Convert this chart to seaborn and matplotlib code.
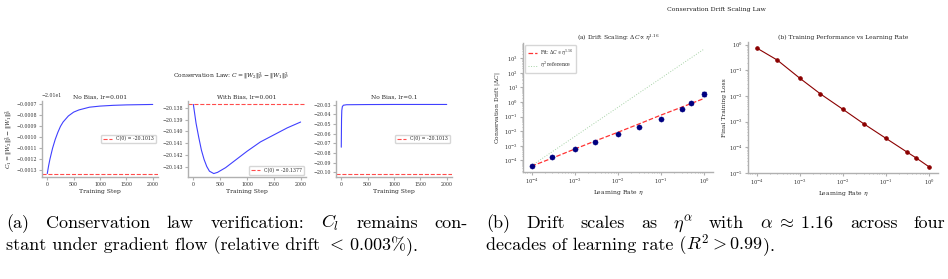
import numpy as np
import pandas as pd
import seaborn as sns
import matplotlib
matplotlib.use("Agg")
import matplotlib.pyplot as plt

# ---- (a) conservation law traces (sampled from the curves) ----
steps_a1 = [0, 25, 50, 100, 150, 200, 250, 300, 400, 500, 600, 800, 1000, 1250, 1500, 1750, 2000]
cons_a1 = [-20.10133, -20.10126, -20.10120, -20.10110, -20.10102, -20.100955, -20.10090,
           -20.10086, -20.100805, -20.10077, -20.10075, -20.100725, -20.100715,
           -20.100708, -20.100704, -20.100702, -20.10070]
c0_a1 = -20.10133

steps_a2 = [0, 25, 50, 100, 150, 200, 250, 300, 380, 450, 600, 800, 1000, 1250, 1500, 1750, 2000]
cons_a2 = [-20.1377, -20.1385, -20.1393, -20.1405, -20.1416, -20.1424, -20.1430, -20.1434,
           -20.1436, -20.1435, -20.1431, -20.1424, -20.1417, -20.1409, -20.1403, -20.1397,
           -20.1392]
c0_a2 = -20.1377

steps_a3 = [0, 5, 10, 20, 40, 100, 500, 1000, 2000]
cons_a3 = [-20.074, -20.045, -20.036, -20.032, -20.0305, -20.0300, -20.0298, -20.0297, -20.0297]
c0_a3 = -20.1013

panel_titles = ["No Bias, lr=0.001", "With Bias, lr=0.001", "No Bias, lr=0.1"]
legend_labels = ["C(0) = -20.1013", "C(0) = -20.1377", "C(0) = -20.1013"]

# ---- (b) drift scaling ----
eta = [1e-4, 3e-4, 1e-3, 3e-3, 1e-2, 3e-2, 1e-1, 3e-1, 5e-1, 1.0]
drift = [4.4e-5, 1.8e-4, 6.0e-4, 1.9e-3, 6.5e-3, 2.0e-2, 6.9e-2, 0.31, 0.85, 3.6]
drift_err = [2e-6, 8e-6, 3e-5, 1e-4, 3e-4, 1e-3, 4e-3, 0.03, 0.15, 1.1]
fit_line = [4.1e-5, 1.45e-4, 6.1e-4, 2.2e-3, 8.6e-3, 3.1e-2, 1.3e-1, 0.45, 0.81, 1.8]
ref_line = [4.4e-5, 4.0e-4, 4.4e-3, 4.0e-2, 0.44, 4.0, 44.0, 400.0, 1100.0, 4400.0]
final_loss = [0.74, 0.25, 0.049, 0.012, 0.0030, 8.3e-4, 2.2e-4, 6.6e-5, 3.8e-5, 1.7e-5]

sns.set_style("ticks")
plt.rcParams.update({
    "font.family": "serif",
    "font.serif": ["DejaVu Serif"],
    "mathtext.fontset": "dejavuserif",
    "axes.edgecolor": "#b0b0b0",
    "axes.linewidth": 1.0,
    "xtick.color": "#b0b0b0",
    "ytick.color": "#b0b0b0",
    "xtick.labelcolor": "#333333",
    "ytick.labelcolor": "#333333",
    "xtick.major.size": 2,
    "ytick.major.size": 2,
    "xtick.minor.size": 1,
    "ytick.minor.size": 1,
    "xtick.labelsize": 3.4,
    "ytick.labelsize": 3.4,
    "axes.titlesize": 4.3,
    "axes.labelsize": 4.3,
    "legend.fontsize": 3.3,
    "axes.titlepad": 2,
    "axes.labelpad": 1.5,
    "xtick.major.pad": 1.5,
    "ytick.major.pad": 1.5,
})

W, H = 948, 279
fig = plt.figure(figsize=(W / 100, H / 100), dpi=100)


def rect(l, r, t, b):
    return [l / W, 1 - b / H, (r - l) / W, (b - t) / H]


# ---- left composite ----
left_boxes = [(42, 158, 101, 177), (188, 306, 101, 177), (336, 452, 101, 177)]
left_data = [(steps_a1, cons_a1, c0_a1), (steps_a2, cons_a2, c0_a2), (steps_a3, cons_a3, c0_a3)]
legend_locs = ["center right", "lower right", "center right"]

for i, (box, (st, vals, c0)) in enumerate(zip(left_boxes, left_data)):
    ax = fig.add_axes(rect(*box))
    df = pd.DataFrame({"step": st, "C": vals})
    sns.lineplot(data=df, x="step", y="C", color="blue", alpha=0.75, lw=0.8, ax=ax)
    ax.axhline(c0, color="red", ls="--", lw=0.8, alpha=0.7, label=legend_labels[i])
    ax.set_title(panel_titles[i])
    ax.set_xlabel("Training Step")
    ax.set_ylabel("")
    ax.set_xticks([0, 500, 1000, 1500, 2000])
    ax.legend(loc=legend_locs[i], frameon=True, handlelength=2, borderpad=0.4)
    ax.yaxis.get_offset_text().set_fontsize(3.4)
    sns.despine(ax=ax)
    if i == 0:
        ax.set_ylabel(r"$C_1 = \|W_2\|_F^2 - \|W_1\|_F^2$")

fig.text(231 / W, 1 - 76 / H, r"Conservation Law: $C = \|W_2\|_F^2 - \|W_1\|_F^2$",
         ha="center", va="center", fontsize=4.3, color="#222222")

# ---- right composite ----
fig.text(716 / W, 1 - 10 / H, "Conservation Drift Scaling Law",
         ha="center", va="center", fontsize=4.5, color="#222222")

ax_d = fig.add_axes(rect(523, 713, 43, 172))
df_d = pd.DataFrame({"eta": eta, "drift": drift, "fit": fit_line, "ref": ref_line})
ax_d.errorbar(eta, drift, yerr=drift_err, fmt="none", ecolor="navy", elinewidth=0.7, capsize=1.2)
sns.scatterplot(data=df_d, x="eta", y="drift", color="navy", s=14, edgecolor="navy", ax=ax_d, zorder=3)
sns.lineplot(data=df_d, x="eta", y="fit", color="red", ls="--", lw=0.9, alpha=0.8,
             label=r"Fit: $\Delta C \propto \eta^{1.16}$", ax=ax_d)
sns.lineplot(data=df_d, x="eta", y="ref", color="green", ls=":", lw=0.7, alpha=0.35,
             label=r"$\eta^2$ reference", ax=ax_d)
ax_d.set_xscale("log")
ax_d.set_yscale("log")
ax_d.set_title(r"(a) Drift Scaling: $\Delta C \propto \eta^{1.16}$")
ax_d.set_xlabel(r"Learning Rate $\eta$")
ax_d.set_ylabel(r"Conservation Drift $|\Delta C|$")
ax_d.set_yticks([1e-4, 1e-3, 1e-2, 1e-1, 1e0, 1e1, 1e2, 1e3])
ax_d.legend(loc="upper left", frameon=True, handlelength=2, borderpad=0.5)
ax_d.tick_params(labelsize=3.8)
sns.despine(ax=ax_d)

ax_l = fig.add_axes(rect(748, 938, 42, 173))
df_l = pd.DataFrame({"eta": eta, "loss": final_loss})
sns.lineplot(data=df_l, x="eta", y="loss", color="darkred", lw=0.8, marker="o",
             markersize=2.5, markeredgecolor="darkred", ax=ax_l)
ax_l.set_xscale("log")
ax_l.set_yscale("log")
ax_l.set_title("(b) Training Performance vs Learning Rate")
ax_l.set_xlabel(r"Learning Rate $\eta$")
ax_l.set_ylabel("Final Training Loss")
ax_l.tick_params(labelsize=3.8)
sns.despine(ax=ax_l)

# ---- captions (LaTeX-like, first lines justified) ----
plt.rcParams["mathtext.fontset"] = "cm"
cap_kw = dict(fontsize=13, family="cmr10", va="baseline", ha="left", color="black")
renderer = fig.canvas.get_renderer()


def place_words(x0, y, words, x1=None):
    # lay words out left to right; if x1 is given, stretch the gaps to fill the line
    texts = [fig.text(0, 1 - y / H, w, **cap_kw) for w in words]
    widths = [t.get_window_extent(renderer).width for t in texts]
    gap = 0 if x1 is None else ((x1 - x0) - sum(widths)) / (len(words) - 1)
    x = x0
    for t, w in zip(texts, widths):
        t.set_x(x / W)
        x += w + gap


place_words(6, 228, ["(a)", "Conservation", "law", "verification:", r"$C_l$",
                     "remains", "con-"], x1=468)
place_words(6, 250, ["stant under gradient flow (relative drift ", r"$<\,0.003\%$", ")."])
place_words(486, 228, ["(b)", "Drift", "scales", "as", r"$\eta^\alpha$", "with",
                       r"$\alpha\;\approx\;1.16$", "across", "four"], x1=945)
place_words(486, 250, ["decades of learning rate (", r"$R^2>0.99$", ")."])

fig.savefig("out.png", dpi=100, facecolor="white")
